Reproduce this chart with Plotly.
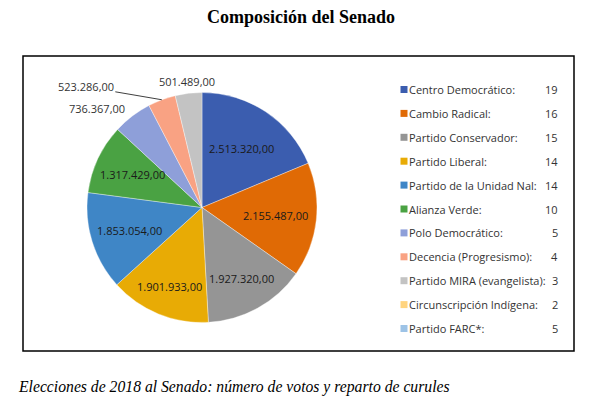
import math
import plotly.graph_objects as go

W, H = 602, 409
OX, OY = 8, 8  # page body margin offset in the browser

parties = ["Centro Democrático:", "Cambio Radical:", "Partido Conservador:",
           "Partido Liberal:", "Partido de la Unidad Nal:", "Alianza Verde:",
           "Polo Democrático:", "Decencia (Progresismo):", "Partido MIRA (evangelista):",
           "Circunscripción Indígena:", "Partido FARC*:"]
seats = [19, 16, 15, 14, 14, 10, 5, 4, 3, 2, 5]
votes = [2513320, 2155487, 1927320, 1901933, 1853054, 1317429, 736367, 523286, 501489]
colors = ["#3B5DAF", "#E06A05", "#959595", "#E8AB05", "#3F86C6", "#4AA243",
          "#8E9FD9", "#F9A283", "#C3C3C3", "#FFD47F", "#9DC3E6"]

title_text = "Composición del Senado"
caption_text = "Elecciones de 2018 al Senado: número de votos y reparto de curules"

# label placement (radius as a fraction of the pie radius), layout only
inside_r = [0.62, 0.64, 0.71, 0.74, 0.66, 0.67]


def px(x):
    return (x - OX) / W


def py(y):
    return 1 - (y - OY) / H


def fmt(v):
    s = f"{v:,.2f}"
    return s.replace(",", "X").replace(".", ",").replace("X", ".")


CX, CY, R = 202, 207.5, 115
n_votes = len(votes)

fig = go.Figure()
fig.add_trace(go.Pie(
    labels=parties[:n_votes],
    values=votes,
    sort=False,
    direction="clockwise",
    rotation=0,
    marker=dict(colors=colors[:n_votes], line=dict(color="rgba(255,255,255,0.6)", width=0.6)),
    textinfo="none",
    showlegend=False,
    hoverinfo="label+value",
    domain=dict(x=[px(CX - R), px(CX + R)], y=[py(CY + R), py(CY - R)]),
))

shapes = [dict(type="rect", xref="paper", yref="paper",
               x0=px(23), x1=px(574), y0=py(351), y1=py(56),
               line=dict(color="black", width=1.5), fillcolor="rgba(0,0,0,0)")]
annotations = []

# data labels, placed from the cumulative vote shares
total = sum(votes)
cum = 0
label_font = dict(family="Open Sans", size=11, color="#1a1a1a")
for i, v in enumerate(votes):
    mid = (cum + v / 2) / total * 2 * math.pi
    cum += v
    sx, sy = math.sin(mid), -math.cos(mid)
    if i < len(inside_r):
        r = inside_r[i] * R
        annotations.append(dict(xref="paper", yref="paper", x=px(CX + r * sx), y=py(CY + r * sy),
                                text=fmt(v), showarrow=False, xanchor="center", yanchor="middle",
                                font=label_font))
    elif i == 6:
        r = 1.08 * R
        annotations.append(dict(xref="paper", yref="paper", x=px(CX + r * sx), y=py(CY + r * sy),
                                text=fmt(v), showarrow=False, xanchor="right", yanchor="middle",
                                font=dict(label_font, color="#333333")))
    elif i == 7:
        annotations.append(dict(xref="paper", yref="paper", x=px(CX + R * sx), y=py(CY + R * sy),
                                text=fmt(v), showarrow=True, arrowhead=0, arrowwidth=1,
                                arrowcolor="#404040", ax=-76, ay=-13,
                                font=dict(label_font, color="#333333")))
    else:
        r = 1.1 * R
        annotations.append(dict(xref="paper", yref="paper", x=px(CX + r * sx), y=py(CY + r * sy),
                                text=fmt(v), showarrow=False, xanchor="center", yanchor="middle",
                                font=dict(label_font, color="#333333")))

# custom legend (squares + labels + seat counts)
y0, step = 89.5, 23.9
leg_font = dict(family="Open Sans", size=11, color="#333333")
for i, (p, s, c) in enumerate(zip(parties, seats, colors)):
    yc = y0 + i * step
    shapes.append(dict(type="rect", xref="paper", yref="paper",
                       x0=px(400.5), x1=px(407.5), y0=py(yc + 3.5), y1=py(yc - 3.5),
                       line=dict(width=0), fillcolor=c))
    annotations.append(dict(xref="paper", yref="paper", x=px(406.5), y=py(yc),
                            text=p, showarrow=False, xanchor="left", yanchor="middle",
                            font=leg_font))
    annotations.append(dict(xref="paper", yref="paper", x=px(560), y=py(yc),
                            text=str(s), showarrow=False, xanchor="right", yanchor="middle",
                            font=leg_font))

annotations.append(dict(xref="paper", yref="paper", x=px(301), y=py(17), text="<b>" + title_text + "</b>",
                        showarrow=False, xanchor="center", yanchor="middle",
                        font=dict(family="Liberation Serif", size=18, color="black")))
annotations.append(dict(xref="paper", yref="paper", x=px(16), y=py(387), text="<i>" + caption_text + "</i>",
                        showarrow=False, xanchor="left", yanchor="middle",
                        font=dict(family="Liberation Serif", size=15.7, color="black")))

fig.update_layout(
    width=W, height=H,
    margin=dict(l=0, r=0, t=0, b=0),
    paper_bgcolor="white", plot_bgcolor="white",
    separators=",.",
    shapes=shapes,
    annotations=annotations,
)

fig.write_html("out.html")
